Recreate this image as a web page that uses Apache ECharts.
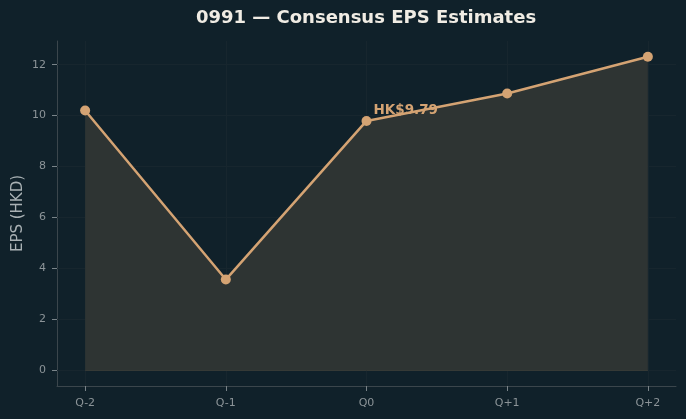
<!DOCTYPE html>
<html>
<head>
    <meta charset="UTF-8">
    <title>0991 EPS</title>
    <script type="text/javascript" src="https://cdn.jsdelivr.net/npm/echarts@6/dist/echarts.min.js"></script>
</head>
<body style="margin:0; background-color:#10212a;">
    <div id="chart" style="width:686px;height:419px;"></div>
    <script>
        // quarters and consensus EPS (HKD)
        var quarters = ['Q-2', 'Q-1', 'Q0', 'Q+1', 'Q+2'];
        var epsValues = [10.2, 3.56, 9.79, 10.87, 12.31];
        var yTicks = [0, 2, 4, 6, 8, 10, 12];
        var highlightIndex = 2;
        var highlightText = 'HK$9.79';

        var xTicks = quarters.map(function (q, i) { return i; });
        var gridColor = '#17262e';

        var seriesData = epsValues.map(function (v, i) {
            var item = { value: [i, v] };
            if (i === highlightIndex) {
                item.label = {
                    show: true,
                    formatter: highlightText,
                    position: [12, -12],
                    align: 'left',
                    verticalAlign: 'top',
                    color: '#d4a373',
                    fontWeight: 'bold',
                    fontSize: 13.5,
                    fontFamily: 'DejaVu Sans'
                };
            }
            return item;
        });

        var gridLines = yTicks.map(function (t) { return { yAxis: t }; })
            .concat(xTicks.map(function (t) { return { xAxis: t }; }));
        // bottom edge of the filled area
        gridLines.push([
            { coord: [xTicks[0], 0], lineStyle: { color: '#3a3d39' } },
            { coord: [xTicks[xTicks.length - 1], 0] }
        ]);

        var chart = echarts.init(document.getElementById('chart'), null, { renderer: 'canvas' });
        var option = {
            backgroundColor: '#10212a',
            animation: false,
            textStyle: { fontFamily: 'DejaVu Sans' },
            grid: { left: 57, right: 10, top: 41, bottom: 33, containLabel: false, outerBoundsMode: 'none' },
            graphic: [{
                type: 'text',
                x: 366,
                y: 18,
                style: {
                    text: '0991 — Consensus EPS Estimates',
                    fill: '#f0ece4',
                    font: 'bold 18px "DejaVu Sans"',
                    textAlign: 'center',
                    textVerticalAlign: 'middle'
                }
            }],
            xAxis: {
                type: 'value',
                min: -0.2,
                max: 4.2,
                splitLine: { show: false },
                axisLine: { show: true, onZero: false, lineStyle: { color: '#3b464c' } },
                axisTick: { show: true, length: 5, customValues: xTicks, lineStyle: { color: '#7a8489' } },
                axisLabel: {
                    customValues: xTicks,
                    formatter: function (v) { return quarters[Math.round(v)]; },
                    color: '#8c9498',
                    fontSize: 11,
                    margin: 12
                }
            },
            yAxis: {
                type: 'value',
                min: -0.62,
                max: 12.93,
                name: 'EPS (HKD)',
                nameLocation: 'middle',
                nameRotate: 90,
                nameGap: 31,
                nameMoveOverlap: false,
                nameTextStyle: { color: '#a9b1b4', fontSize: 15 },
                splitLine: { show: false },
                axisLine: { show: true, onZero: false, lineStyle: { color: '#3b464c' } },
                axisTick: { show: true, length: 5, customValues: yTicks, lineStyle: { color: '#7a8489' } },
                axisLabel: {
                    customValues: yTicks,
                    color: '#8c9498',
                    fontSize: 11,
                    margin: 11
                }
            },
            series: [{
                type: 'line',
                data: seriesData,
                symbol: 'circle',
                symbolSize: 10,
                lineStyle: { color: '#d4a373', width: 2.5 },
                itemStyle: { color: '#d4a373' },
                areaStyle: { color: '#2e3433', opacity: 1, origin: 0 },
                z: 3,
                markLine: {
                    silent: true,
                    symbol: 'none',
                    label: { show: false },
                    lineStyle: { color: gridColor, width: 1, type: 'solid' },
                    data: gridLines,
                    z: 1
                }
            }]
        };
        chart.setOption(option);
    </script>
</body>
</html>
